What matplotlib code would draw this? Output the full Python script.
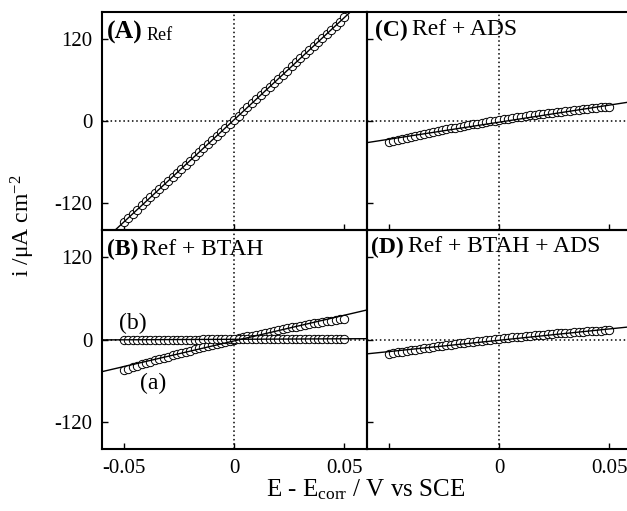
import matplotlib
matplotlib.use("Agg")
import matplotlib.pyplot as plt
import numpy as np

plt.rcParams['font.family'] = ['Liberation Serif', 'DejaVu Serif']
plt.rcParams['mathtext.fontset'] = 'custom'
plt.rcParams['mathtext.rm'] = 'Liberation Serif'
plt.rcParams['mathtext.it'] = 'Liberation Serif:italic'
plt.rcParams['axes.unicode_minus'] = False

# ---- data ----
E_mV = [-50, -48, -46, -44, -42, -40, -38, -36, -34, -32, -30, -28, -26, -24, -22,
        -20, -18, -16, -14, -12, -10, -8, -6, -4, -2, 0, 2, 4, 6, 8, 10, 12, 14, 16,
        18, 20, 22, 24, 26, 28, 30, 32, 34, 36, 38, 40, 42, 44, 46, 48, 50]

i_A = [-148, -142, -136, -130, -124, -118, -112, -106, -100, -94, -88, -82, -76, -70,
       -64, -58, -52, -46, -40, -34, -28, -22, -16, -10, -4, 2, 8, 14, 20, 26, 32, 38,
       44, 50, 56, 62, 68, 74, 80, 86, 92, 98, 104, 110, 116, 122, 128, 134, 140, 146, 153]

i_B_a = [-44.4, -42.4, -40.3, -38.3, -36.4, -34.4, -32.5, -30.6, -28.7, -26.8, -25.0,
         -23.2, -21.4, -19.6, -17.8, -16.1, -14.4, -12.7, -11.0, -9.4, -7.8, -6.2, -4.6,
         -3.0, -1.5, 0.0, 1.5, 3.0, 4.4, 5.8, 7.2, 8.6, 10.0, 11.3, 12.6, 13.9, 15.2, 16.4,
         17.6, 18.8, 20.0, 21.2, 22.3, 23.4, 24.5, 25.6, 26.6, 27.7, 28.7, 29.6, 30.6]

i_B_b = [-0.70, -0.66, -0.62, -0.58, -0.54, -0.50, -0.46, -0.42, -0.38, -0.34, -0.30,
         -0.26, -0.22, -0.18, -0.14, -0.10, -0.06, -0.02, 0.02, 0.06, 0.10, 0.14, 0.18,
         0.22, 0.26, 0.30, 0.34, 0.38, 0.42, 0.46, 0.50, 0.54, 0.58, 0.62, 0.66, 0.70,
         0.74, 0.78, 0.82, 0.86, 0.90, 0.94, 0.98, 1.02, 1.06, 1.10, 1.14, 1.18, 1.22,
         1.26, 1.30]

i_C = [-30.2, -28.7, -27.2, -25.8, -24.3, -22.9, -21.5, -20.1, -18.7, -17.4, -16.1,
       -14.8, -13.5, -12.2, -10.9, -9.7, -8.5, -7.3, -6.2, -5.0, -3.9, -2.8, -1.7, -0.6,
       0.5, 1.5, 2.5, 3.5, 4.5, 5.4, 6.4, 7.3, 8.2, 9.1, 9.9, 10.8, 11.6, 12.4, 13.2,
       13.9, 14.7, 15.4, 16.1, 16.8, 17.4, 18.1, 18.7, 19.3, 19.9, 20.5, 21.0]

i_D = [-20.7, -19.7, -18.6, -17.6, -16.6, -15.7, -14.7, -13.7, -12.8, -11.9, -11.0,
       -10.1, -9.2, -8.3, -7.5, -6.6, -5.8, -5.0, -4.2, -3.4, -2.6, -1.9, -1.1, -0.4,
       0.3, 1.0, 1.7, 2.4, 3.0, 3.7, 4.3, 4.9, 5.5, 6.1, 6.6, 7.2, 7.7, 8.3, 8.8, 9.3,
       9.8, 10.2, 10.7, 11.1, 11.5, 12.0, 12.4, 12.7, 13.1, 13.5, 13.8]

# linear fits: (intercept uA cm-2, slope uA cm-2 / V)
fit_A = (2.0, 3000.0)
fit_B_a = (-2.0, 750.0)
fit_B_b = (0.3, 15.0)
fit_C = (-1.7, 501.0)
fit_D = (-1.1, 331.0)

xticks = [-0.05, 0, 0.05]
xticklabels = ['-0.05', '0', '0.05']
yticks = [-120, 0, 120]
yticklabels = ['-120', '0', '120']

E = np.array(E_mV) / 1000.0

W, H = 627, 511
fig = plt.figure(figsize=(W / 100, H / 100), dpi=100)

def px_ax(x0, y0, x1, y1):
    return fig.add_axes([x0 / W, 1 - y1 / H, (x1 - x0) / W, (y1 - y0) / H])

axA = px_ax(102, 12, 366.5, 230)
axC = px_ax(367, 12, 631.5, 230)
axB = px_ax(102, 230, 366.5, 449)
axD = px_ax(367, 230, 631.5, 449)

TICK_FS = 15
PANEL_FS = 17

for ax in (axA, axB, axC, axD):
    ax.set_xlim(-0.06, 0.06)
    ax.set_ylim(-160, 160)
    ax.set_xticks(xticks)
    ax.set_yticks(yticks)
    ax.tick_params(direction='in', length=4, width=1.0, top=False, right=False,
                   labelsize=TICK_FS, pad=7)
    for s in ax.spines.values():
        s.set_linewidth(1.5)
    ax.axhline(0, color='k', ls=(0, (1, 1.8)), lw=1.1, zorder=1)
    ax.axvline(0, color='k', ls=(0, (1, 1.8)), lw=1.1, zorder=1)
    ax.set_facecolor('none')

axA.set_yticklabels(yticklabels)
axB.set_yticklabels(yticklabels)
axC.set_yticklabels([])
axD.set_yticklabels([])
axA.set_xticklabels([])
axC.set_xticklabels([])
axB.set_xticklabels(xticklabels)
axD.set_xticklabels(['', '0', '0.05'])

mk = dict(ls='none', marker='o', ms=6.0, mfc='white', mec='k', mew=0.7, zorder=2)
ln = dict(color='k', lw=1.0, zorder=3)

def draw(ax, ivals, fit):
    ax.plot(E, ivals, **mk)
    ax.axline((0, fit[0]), slope=fit[1], **ln)

draw(axA, i_A, fit_A)
draw(axB, i_B_a, fit_B_a)
draw(axB, i_B_b, fit_B_b)
draw(axC, i_C, fit_C)
draw(axD, i_D, fit_D)

def panel_label(ax, x, y, tag, text, fs_tag, fs_text):
    t = ax.text(x, y, tag, transform=ax.transAxes, fontsize=fs_tag,
                fontweight='bold', ha='left', va='center')
    ax.annotate(text, xy=(1, 0), xycoords=t, xytext=(3, 0.5),
                textcoords='offset points', fontsize=fs_text, ha='left', va='bottom')

panel_label(axA, 0.018, 0.905, '(A)', 'Ref', 18.5, 13)
panel_label(axC, 0.03, 0.915, '(C)', 'Ref + ADS', PANEL_FS, PANEL_FS)
panel_label(axB, 0.018, 0.91, '(B)', 'Ref + BTAH', PANEL_FS, PANEL_FS)
panel_label(axD, 0.016, 0.92, '(D)', 'Ref + BTAH + ADS', PANEL_FS, PANEL_FS)

axB.text(-0.046, 23, '(b)', fontsize=PANEL_FS, ha='center', va='center')
axB.text(-0.037, -64, '(a)', fontsize=PANEL_FS, ha='center', va='center')

fig.text(366 / W, 1 - 490 / H, r'E - E$_{\mathrm{corr}}$ / V vs SCE',
         ha='center', va='center', fontsize=18)
fig.text(23 / W, 1 - 226 / H, r'i /$\mathrm{\mu}$A cm$^{\mathrm{-2}}$',
         ha='center', va='center', rotation=90, fontsize=17)

fig.savefig('out.png', dpi=100)
